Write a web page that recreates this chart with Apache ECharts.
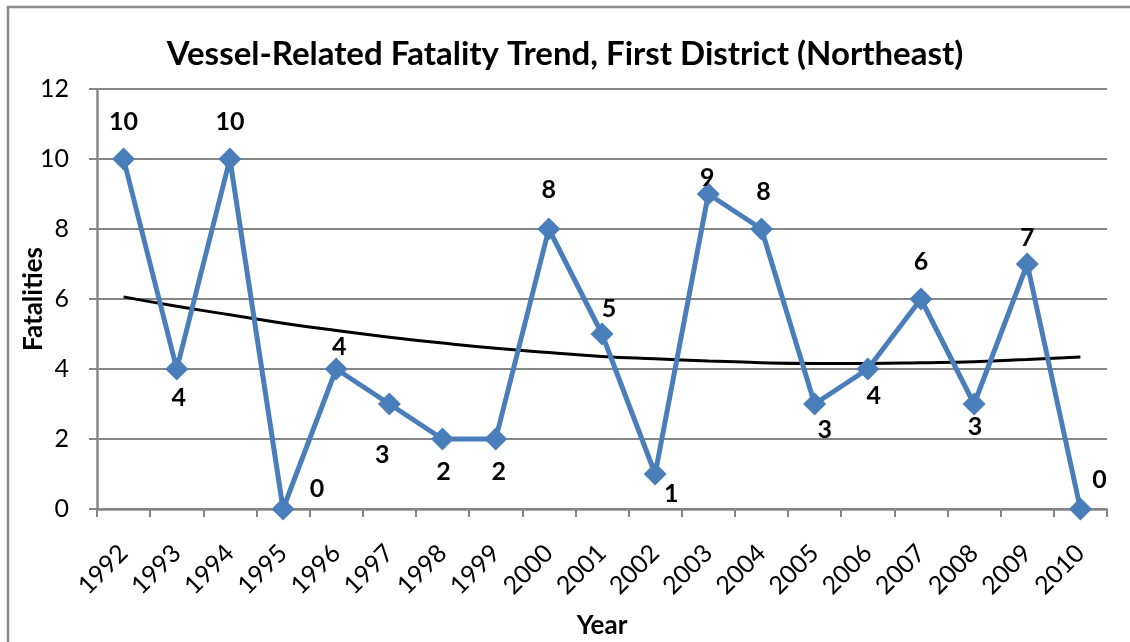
<!DOCTYPE html>
<html>
<head>
<meta charset="utf-8">
<script src="https://cdn.jsdelivr.net/npm/echarts@6/dist/echarts.min.js"></script>
<style>
html,body{margin:0;padding:0;background:#fff;}
#chart{width:1130px;height:642px;}
</style>
</head>
<body>
<div id="chart"></div>
<script>
var years = ['1992','1993','1994','1995','1996','1997','1998','1999','2000','2001','2002','2003','2004','2005','2006','2007','2008','2009','2010'];
var fatalities = [10,4,10,0,4,3,2,2,8,5,1,9,8,3,4,6,3,7,0];
var trendline = [6.06,5.79,5.55,5.31,5.10,4.91,4.74,4.59,4.47,4.36,4.29,4.23,4.18,4.16,4.16,4.18,4.21,4.27,4.34];
var yTicks = [0,2,4,6,8,10,12];

// label placement offsets (style only)
var labelOffsets = [[0,-37],[2,29],[0,-37],[34,-20],[3,-22],[-7,51],[1,33],[3,33],[0,-39],[7,-25],[16,20],[-1,-16],[2,-37],[10,26],[6,27],[0,-37],[1,23],[0,-26],[19,-29]];

var FONT = 'Lato';
var chart = echarts.init(document.getElementById('chart'));
var seriesData = fatalities.map(function(v,i){
  return {value:v, label:{offset:labelOffsets[i]}};
});
chart.setOption({
  animation:false,
  backgroundColor:'#ffffff',
  graphic:[{type:'rect',shape:{x:8,y:7,width:1300,height:1000},style:{fill:'none',stroke:'#8a8a8a',lineWidth:2.5},silent:true}],
  title:{text:'Vessel-Related Fatality Trend, First District (Northeast)',left:'center',top:33,
    textStyle:{fontFamily:FONT,fontWeight:'bold',fontSize:33,color:'#000'}},
  grid:{left:97,right:23,top:89,bottom:133,outerBoundsMode:'none',containLabel:false},
  xAxis:{type:'category',data:years,boundaryGap:true,
    name:'Year',nameLocation:'middle',nameGap:104,nameMoveOverlap:false,
    nameTextStyle:{fontFamily:FONT,fontWeight:'bold',fontSize:26,color:'#000'},
    axisLine:{lineStyle:{color:'#868686',width:2.5}},
    axisTick:{show:true,alignWithLabel:false,length:8,lineStyle:{color:'#868686',width:2}},
    axisLabel:{rotate:45,margin:40,fontFamily:FONT,fontSize:25,color:'#000',interval:0}},
  yAxis:{type:'value',min:0,max:12,interval:2,
    name:'Fatalities',nameLocation:'middle',nameGap:50,nameRotate:90,nameMoveOverlap:false,
    nameTextStyle:{fontFamily:FONT,fontWeight:'bold',fontSize:26,color:'#000'},
    axisLine:{show:true,lineStyle:{color:'#868686',width:2.5}},
    axisTick:{show:true,length:8,lineStyle:{color:'#868686',width:2}},
    splitLine:{lineStyle:{color:'#868686',width:2}},
    axisLabel:{margin:28,fontFamily:FONT,fontSize:25,color:'#000',
      formatter:function(v){return yTicks.indexOf(v)>=0?String(v):'';}}},
  series:[
    {type:'line',name:'Fatalities',data:seriesData,
      lineStyle:{color:'#4a7ebb',width:5},
      itemStyle:{color:'#4a7ebb'},
      symbol:'diamond',symbolSize:23,z:3,
      label:{show:true,position:'inside',fontFamily:FONT,fontWeight:'bold',fontSize:25,color:'#000'}},
    {type:'line',name:'Trend',data:trendline,smooth:true,
      lineStyle:{color:'#000',width:3},symbol:'none',z:2,silent:true}
  ]
});
</script>
</body>
</html>
